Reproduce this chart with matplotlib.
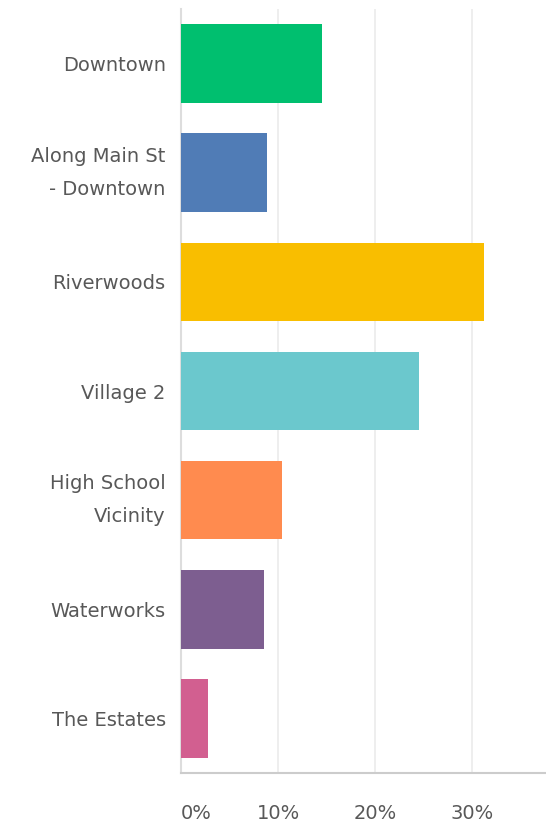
import matplotlib
matplotlib.use("Agg")
import matplotlib.pyplot as plt

categories = ["Downtown", "Along Main St\n- Downtown", "Riverwoods", "Village 2",
              "High School\nVicinity", "Waterworks", "The Estates"]
percents = [14.5, 8.9, 31.2, 24.5, 10.4, 8.5, 2.8]
colors = ["#00BF6F", "#507CB6", "#F9BE00", "#6BC8CD", "#FF8B4F", "#7D5E90", "#D25F90"]
tick_values = [0, 10, 20, 30]
tick_labels = ["0%", "10%", "20%", "30%"]

plt.rcParams["font.family"] = ["DejaVu Sans"]

fig = plt.figure(figsize=(5.46, 8.25), dpi=100)
ax = fig.add_axes([181 / 546, 52 / 825, 1 - 181 / 546, (773 - 9) / 825])

y = list(range(len(categories)))
ax.barh(y, percents, height=0.72, color=colors, zorder=3)

ax.set_xlim(0, 37.6)
ax.set_ylim(len(categories) - 0.5, -0.5)

ax.set_xticks(tick_values)
ax.set_xticklabels(tick_labels)
ax.set_yticks(y)
ax.set_yticklabels(categories, linespacing=1.95)
for lbl in ax.get_yticklabels():
    if "\n" in lbl.get_text():
        lbl.set_verticalalignment("center")

for lbl in ax.get_xticklabels():
    lbl.set_horizontalalignment("center")
ax.get_xticklabels()[0].set_horizontalalignment("left")

ax.tick_params(axis="both", length=0, labelsize=14, colors="#585858")
ax.tick_params(axis="y", pad=11)
ax.tick_params(axis="x", pad=22)

ax.grid(axis="x", color="#ebebeb", linewidth=1.2, zorder=0)
for side in ["top", "right"]:
    ax.spines[side].set_visible(False)
ax.spines["left"].set_color("#dddddd")
ax.spines["left"].set_linewidth(1.5)
ax.spines["bottom"].set_color("#cccccc")
ax.spines["bottom"].set_linewidth(1.5)

fig.savefig("out.png", dpi=100)
